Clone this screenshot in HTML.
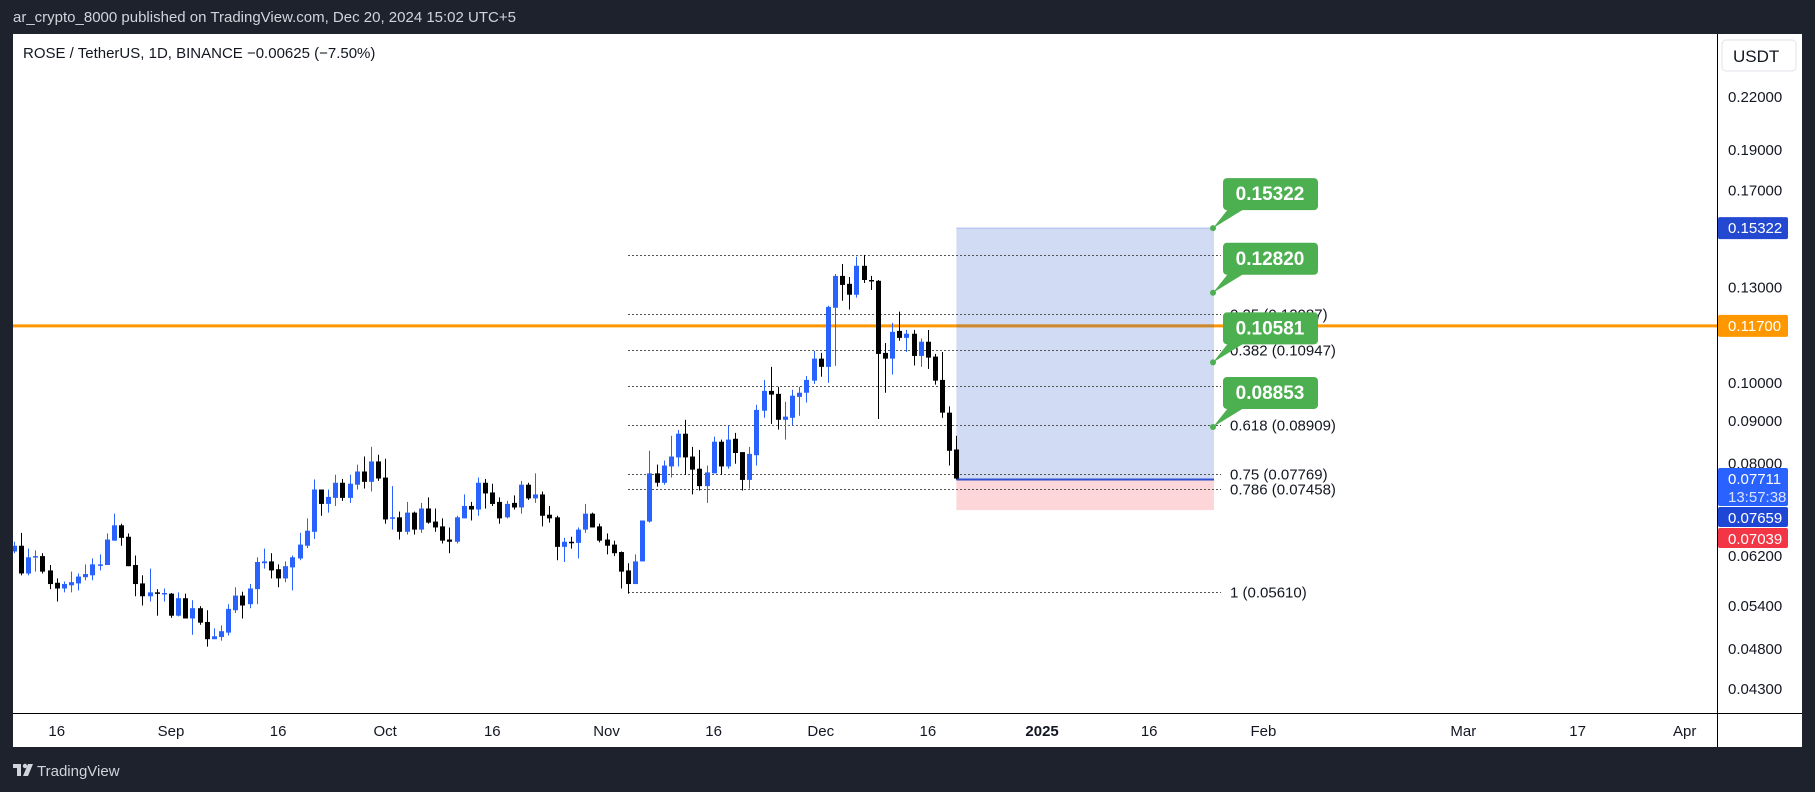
<!DOCTYPE html>
<html><head><meta charset="utf-8">
<style>
html,body{margin:0;padding:0;background:#1e222d;width:1815px;height:792px;overflow:hidden;font-family:"Liberation Sans",sans-serif;}
#hdr{position:absolute;left:13px;top:9px;color:#d1d4dc;font-size:15px;}
svg{position:absolute;left:0;top:0;}
</style></head>
<body>
<div id="hdr">ar_crypto_8000 published on TradingView.com, Dec 20, 2024 15:02 UTC+5</div>
<svg id="chart" width="1815" height="792"></svg>
<script>
const opens=[.0628,.0638,.0591,.0618,.0620,.0596,.0576,.0567,.0572,.0575,
.0585,.0588,.0605,.0605,.0647,.0675,.0654,.0605,.0575,.0555,
.0561,.0559,.0559,.0526,.0552,.0522,.0537,.0517,.0493,.0496,
.0502,.0534,.0556,.0543,.0566,.0608,.0611,.0598,.0583,.0601,
.0616,.0638,.0663,.0745,.0716,.0728,.0759,.0728,.0755,.0783,
.0761,.0805,.0770,.0688,.0690,.0663,.0699,.0667,.0707,.0682,
.0673,.0649,.0645,.0688,.0712,.0705,.0759,.0739,.0720,.0690,
.0718,.0709,.0755,.0727,.0735,.0695,.0690,.0636,.0645,.0643,
.0667,.0697,.0673,.0649,.0640,.0627,.0596,.0574,.0611,.0682,
.0779,.0759,.0794,.0814,.0869,.0816,.0789,.0752,.0779,.0850,
.0794,.0857,.0826,.0765,.0819,.0926,.0978,.0970,.0903,.0908,
.0962,.0973,.1006,.1069,.1045,.1230,.1343,.1314,.1275,.1381,
.1328,.1325,.1086,.1069,.1154,.1132,.1145,.1077,.1120,.1075,
.1008,.0921,.0832];
const highs=[.0645,.0661,.0633,.0630,.0625,.0605,.0583,.0578,.0594,.0591,
.0606,.0616,.0623,.0660,.0697,.0678,.0660,.0621,.0588,.0599,
.0566,.0567,.0560,.0561,.0559,.0549,.0540,.0534,.0508,.0512,
.0543,.0569,.0562,.0574,.0618,.0633,.0625,.0606,.0611,.0621,
.0661,.0688,.0766,.0745,.0745,.0776,.0767,.0776,.0798,.0816,
.0838,.0820,.0811,.0752,.0701,.0720,.0701,.0718,.0729,.0707,
.0688,.0671,.0693,.0735,.0720,.0770,.0767,.0757,.0729,.0722,
.0733,.0763,.0759,.0779,.0741,.0712,.0693,.0652,.0654,.0671,
.0716,.0699,.0678,.0660,.0647,.0628,.0608,.0623,.0684,.0829,
.0798,.0807,.0864,.0878,.0903,.0838,.0831,.0796,.0862,.0855,
.0888,.0871,.0826,.0838,.0941,.1008,.1045,.0989,.0949,.0981,
.0989,.1019,.1092,.1086,.1237,.1350,.1388,.1339,.1416,.1423,
.1343,.1328,.1116,.1180,.1217,.1157,.1157,.1130,.1157,.1083,
.1089,.0937,.0864];
const lows=[.0625,.0588,.0588,.0594,.0591,.0566,.0547,.0561,.0561,.0564,
.0580,.0580,.0596,.0605,.0647,.0638,.0603,.0555,.0541,.0547,
.0526,.0547,.0523,.0525,.0522,.0499,.0513,.0483,.0493,.0491,
.0498,.0530,.0522,.0537,.0543,.0599,.0583,.0569,.0577,.0564,
.0613,.0634,.0650,.0693,.0699,.0712,.0722,.0718,.0745,.0747,
.0741,.0763,.0678,.0667,.0649,.0658,.0658,.0661,.0678,.0663,
.0642,.0625,.0642,.0688,.0684,.0693,.0707,.0712,.0678,.0688,
.0705,.0697,.0724,.0718,.0673,.0680,.0613,.0610,.0633,.0616,
.0661,.0671,.0644,.0623,.0620,.0567,.0559,.0574,.0611,.0680,
.0751,.0755,.0770,.0794,.0776,.0735,.0743,.0718,.0779,.0776,
.0789,.0800,.0743,.0747,.0796,.0908,.0893,.0879,.0855,.0890,
.0913,.0947,.0997,.1017,.1000,.1048,.1254,.1224,.1265,.1317,
.1292,.0905,.0973,.1023,.1123,.1089,.1049,.1045,.1039,.0995,
.0908,.0796,.0766];
const closes=[.0638,.0591,.0618,.0620,.0594,.0574,.0567,.0574,.0577,.0586,
.0590,.0606,.0606,.0649,.0675,.0652,.0603,.0574,.0555,.0561,
.0559,.0560,.0526,.0552,.0522,.0537,.0516,.0493,.0497,.0504,
.0536,.0556,.0541,.0567,.0610,.0611,.0596,.0583,.0603,.0618,
.0640,.0665,.0745,.0716,.0730,.0759,.0728,.0757,.0783,.0761,
.0805,.0768,.0686,.0690,.0663,.0699,.0667,.0707,.0680,.0671,
.0647,.0645,.0690,.0712,.0705,.0759,.0737,.0716,.0688,.0716,
.0709,.0755,.0727,.0735,.0693,.0688,.0636,.0645,.0643,.0667,
.0697,.0671,.0647,.0638,.0625,.0594,.0574,.0611,.0684,.0779,
.0759,.0796,.0816,.0869,.0814,.0787,.0752,.0781,.0850,.0794,
.0855,.0824,.0765,.0822,.0928,.0978,.0968,.0903,.0911,.0965,
.0973,.1008,.1069,.1045,.1233,.1343,.1310,.1275,.1381,.1328,
.1325,.1083,.1069,.1151,.1132,.1145,.1077,.1120,.1072,.1006,
.0921,.0829,.0768];
const firstDay=-22; // Aug 10 2024, days relative to Sep 1
const priceTicks=[0.22,0.19,0.17,0.13,0.10,0.09,0.08,0.062,0.054,0.048,0.043];
const priceTickLabels=["0.22000","0.19000","0.17000","0.13000","0.10000","0.09000","0.08000","0.06200","0.05400","0.04800","0.04300"];
const timeTickDays=[-16,0,15,30,45,61,76,91,106,122,137,153,181,197,212];
const timeTickLabels=["16","Sep","16","Oct","16","Nov","16","Dec","16","2025","16","Feb","Mar","17","Apr"];
const fibLevels=["0","0.25","0.382","0.5","0.618","0.75","0.786","1"];
const fibPrices=[0.1423,0.12087,0.10947,0.0992,0.08909,0.07769,0.07458,0.05610];
const fibShowLabel=[false,true,true,false,true,true,true,true];
const targetPrices=[0.15322,0.12820,0.10581,0.08853];
const entryPrice=0.07659, stopPrice=0.07039, topPrice=0.15322;
const resistancePrice=0.117;

const NS="http://www.w3.org/2000/svg";
const svg=document.getElementById('chart');
function yS(p){return 97+(Math.log(0.22)-Math.log(p))*362.5;}
function xS(d){return 171+7.14*d;}
function mk(tag,attrs,parent){const e=document.createElementNS(NS,tag);for(const k in attrs)e.setAttribute(k,attrs[k]);(parent||svg).appendChild(e);return e;}
function txt(s,attrs,parent){const e=mk('text',attrs,parent);e.textContent=s;return e;}

const panel=mk('rect',{x:13,y:34,width:1789,height:713,fill:'#ffffff'});


const defs=mk('defs',{});
const cp=mk('clipPath',{id:'plot'},defs);mk('rect',{x:13,y:34,width:1704,height:679},cp);
const plot=mk('g',{'clip-path':'url(#plot)'});



const x0=xS(firstDay+132), x1=1214;
const pr=mk('rect',{x:x0,y:yS(topPrice),width:x1-x0,height:yS(entryPrice)-yS(topPrice),fill:'#d1dbf4'},plot);


mk('line',{x1:x0,x2:x1,y1:yS(topPrice),y2:yS(topPrice),stroke:'#a9bdf0','stroke-width':1},plot);
const sr=mk('rect',{x:x0,y:yS(entryPrice),width:x1-x0,height:yS(stopPrice)-yS(entryPrice),fill:'#fcd6d9'},plot);



fibPrices.forEach((p,i)=>{
  const y=Math.round(yS(p))+0.5;
  const l=mk('line',{x1:628,x2:1221,y1:y,y2:y,stroke:'#555','stroke-width':1,'stroke-dasharray':'2,2'},plot);
  
  
  if(fibShowLabel[i]){
    const t=txt(fibLevels[i]+' ('+p.toFixed(5)+')',{x:1230,y:y+5,'font-size':15,fill:'#131722'},plot);
    
    
  }
});

const ol=mk('line',{x1:13,x2:1717,y1:yS(resistancePrice),y2:yS(resistancePrice),stroke:'#ff9800','stroke-width':3},plot);


mk('line',{x1:x0,x2:x1,y1:yS(resistancePrice),y2:yS(resistancePrice),stroke:'#cc8a2e','stroke-width':3},plot);

const el=mk('line',{x1:x0,x2:x1,y1:yS(entryPrice),y2:yS(entryPrice),stroke:'#2e4fd0','stroke-width':2},plot);



for(let i=0;i<opens.length;i++){
  const x=Math.round(xS(firstDay+i));
  const up=closes[i]>=opens[i];const c=up?'#2962ff':'#000000';
  const g=mk('g',{},plot);
  
  
  mk('rect',{x:x,y:yS(highs[i]),width:1,height:Math.max(1,yS(lows[i])-yS(highs[i])),fill:c},g);
  const t=yS(Math.max(opens[i],closes[i])),b=yS(Math.min(opens[i],closes[i]));
  mk('rect',{x:x-2,y:t,width:5,height:Math.max(1.5,b-t),fill:c},g);
}

targetPrices.forEach((p,i)=>{
  const y=yS(p);const by=y-50;
  const g=mk('g',{});
  
  
  mk('polygon',{points:`${x1-1},${y} ${1232},${by+26} ${1252},${by+26}`,fill:'#4caf50'},g);
  mk('rect',{x:1223,y:by,width:95,height:32,rx:4,fill:'#4caf50'},g);
  mk('circle',{cx:x1-1,cy:y,r:3,fill:'#4caf50'},g);
  txt(p.toFixed(5),{x:1270,y:by+22,'font-size':19,'font-weight':'bold',fill:'#fff','text-anchor':'middle'},g);
});

mk('line',{x1:1717.5,x2:1717.5,y1:34,y2:747,stroke:'#000','stroke-width':1});
mk('line',{x1:13,x2:1802,y1:713.5,y2:713.5,stroke:'#000','stroke-width':1});

priceTicks.forEach((p,i)=>{
  const t=txt(priceTickLabels[i],{x:1728,y:yS(p)+5,'font-size':15,fill:'#131722'});
  
  
});
const ub=mk('rect',{x:1722,y:40,width:74,height:31,rx:4,fill:'#fff',stroke:'#e0e3eb'});


txt('USDT',{x:1733,y:62,'font-size':17,fill:'#131722'});

function tag(p,label,bg,h){
  const y=yS(p);
  mk('rect',{x:1718,y:y-h/2,width:70,height:h,rx:2,fill:bg});
  txt(label,{x:1728,y:y+5,'font-size':15,fill:'#fff'});
}
tag(topPrice,'0.15322','#2449d1',22);
tag(resistancePrice,'0.11700','#ff9800',22);
mk('rect',{x:1718,y:468,width:70,height:38,rx:2,fill:'#2962ff'});
txt('0.07711',{x:1728,y:484,'font-size':15,fill:'#fff'});
txt('13:57:38',{x:1728,y:502,'font-size':15,fill:'#dbe4ff'});
mk('rect',{x:1718,y:507,width:70,height:20,rx:2,fill:'#1e47d6'});
txt('0.07659',{x:1728,y:523,'font-size':15,fill:'#fff'});
mk('rect',{x:1718,y:528,width:70,height:20,rx:2,fill:'#f23645'});
txt('0.07039',{x:1728,y:544,'font-size':15,fill:'#fff'});

timeTickDays.forEach((d,i)=>{
  const t=txt(timeTickLabels[i],{x:xS(d),y:736,'font-size':15,fill:'#131722','text-anchor':'middle','font-weight':timeTickLabels[i]==='2025'?'bold':'normal'});
  
  
});

const lg=txt('ROSE / TetherUS, 1D, BINANCE  \u22120.00625 (\u22127.50%)',{x:23,y:58,'font-size':15,fill:'#131722','xml:space':'preserve'});



const fg=mk('g',{});


mk('rect',{x:13,y:764,width:8,height:4,fill:'#d1d4dc'},fg);
mk('rect',{x:17,y:764,width:4,height:12,fill:'#d1d4dc'},fg);
mk('circle',{cx:25,cy:766,r:2.2,fill:'#d1d4dc'},fg);
mk('polygon',{points:'28,764 33,764 28,776 23,776',fill:'#d1d4dc'},fg);
txt('TradingView',{x:37,y:776,'font-size':15,fill:'#d1d4dc'},fg);
</script>
</body></html>
